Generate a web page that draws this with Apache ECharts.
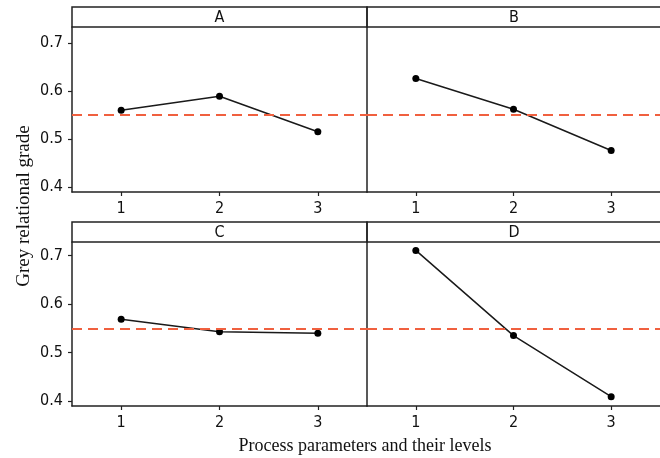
<!DOCTYPE html>
<html>
<head>
<meta charset="utf-8">
<script src="https://cdn.jsdelivr.net/npm/echarts@6/dist/echarts.min.js"></script>
<style>
html,body{margin:0;padding:0;background:#fff;}
#main{width:660px;height:458px;}
</style>
</head>
<body>
<div id="main"></div>
<script>
// 各工艺参数水平的灰色关联度
var levels = ['1', '2', '3'];
var panelNames = ['A', 'B', 'C', 'D'];
var gradeA = [0.560, 0.589, 0.515];
var gradeB = [0.626, 0.562, 0.476];
var gradeC = [0.569, 0.543, 0.540];
var gradeD = [0.711, 0.535, 0.409];
var meanGrade = 0.552;
var yTicks = [0.4, 0.5, 0.6, 0.7];

var lineColor = '#1a1a1a';
var frameColor = '#222';
var tickFont = '"DejaVu Sans Condensed", "DejaVu Sans"';

var myChart = echarts.init(document.getElementById('main'));

// 面板位置
var panels = [
    {left: 72, top: 27, width: 295, height: 165, min: 0.3896, max: 0.7333, stripTop: 7},
    {left: 367, top: 27, width: 294, height: 165, min: 0.3896, max: 0.7333, stripTop: 7},
    {left: 72, top: 242, width: 295, height: 164, min: 0.3897, max: 0.7283, stripTop: 222},
    {left: 367, top: 242, width: 294, height: 164, min: 0.3897, max: 0.7283, stripTop: 222}
];
var allData = [gradeA, gradeB, gradeC, gradeD];

var grids = [], xAxes = [], yAxes = [], series = [], graphics = [];
for (var i = 0; i < panels.length; i++) {
    var p = panels[i];
    var showY = (i % 2 === 0);
    grids.push({left: p.left, top: p.top, width: p.width, height: p.height});
    xAxes.push({
        type: 'category',
        gridIndex: i,
        data: levels,
        boundaryGap: true,
        axisLine: {show: true, lineStyle: {color: frameColor, width: 1.5}},
        axisTick: {show: true, alignWithLabel: true, length: 4, lineStyle: {color: frameColor, width: 1.2}},
        axisLabel: {color: '#111', fontSize: 16, fontFamily: tickFont, margin: 9},
        splitLine: {show: false}
    });
    yAxes.push({
        type: 'value',
        gridIndex: i,
        min: p.min,
        max: p.max,
        axisLine: {show: true, lineStyle: {color: frameColor, width: 1.5}},
        axisTick: {show: showY, length: 4, customValues: yTicks, lineStyle: {color: frameColor, width: 1.2}},
        axisLabel: {show: showY, customValues: yTicks, color: '#111', fontSize: 16, fontFamily: tickFont, margin: 9,
            formatter: function (v) { return v.toFixed(1); }},
        splitLine: {show: false}
    });
    series.push({
        type: 'line',
        xAxisIndex: i,
        yAxisIndex: i,
        data: allData[i],
        symbol: 'circle',
        symbolSize: 7,
        lineStyle: {color: lineColor, width: 1.5},
        itemStyle: {color: '#000'},
        markLine: {
            silent: true,
            symbol: 'none',
            label: {show: false},
            lineStyle: {color: '#f0603f', width: 2, type: [10, 6]},
            data: [{yAxis: meanGrade}]
        },
        z: 3
    });
    // 标题条
    graphics.push({
        type: 'rect',
        shape: {x: p.left, y: p.stripTop, width: p.width, height: p.top - p.stripTop},
        style: {fill: 'none', stroke: frameColor, lineWidth: 1.5}
    });
    graphics.push({
        type: 'text',
        x: p.left + p.width / 2,
        y: (p.stripTop + p.top) / 2 + 1,
        style: {text: panelNames[i], fill: '#111', font: '16px ' + tickFont, align: 'center', verticalAlign: 'middle'}
    });
}

graphics.push({
    type: 'text',
    x: 365,
    y: 446,
    style: {text: 'Process parameters and their levels', fill: '#111', font: '18px "Liberation Serif"', align: 'center', verticalAlign: 'middle'}
});
graphics.push({
    type: 'text',
    x: 24,
    y: 206,
    rotation: Math.PI / 2,
    style: {text: 'Grey relational grade', fill: '#111', font: '19px "Liberation Serif"', align: 'center', verticalAlign: 'middle'}
});

var option = {
    animation: false,
    backgroundColor: '#fff',
    grid: grids,
    xAxis: xAxes,
    yAxis: yAxes,
    series: series,
    graphic: graphics
};
myChart.setOption(option);
</script>
</body>
</html>
